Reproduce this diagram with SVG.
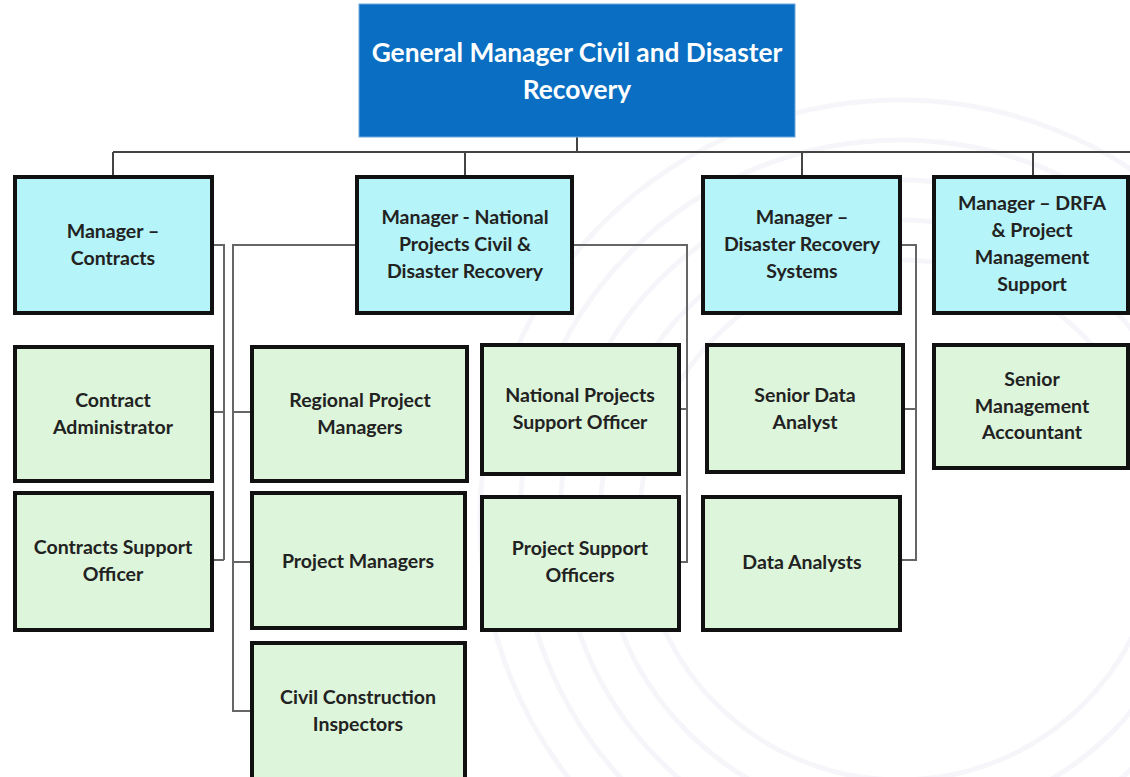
<svg xmlns="http://www.w3.org/2000/svg" width="1130" height="777" viewBox="0 0 1130 777">
<style>
.bg{fill:none;stroke:#ECEAF4;stroke-width:5;opacity:0.45}
.mgr{fill:#B5F4F8;stroke:#111;stroke-width:4}
.staff{fill:#DDF5DA;stroke:#111;stroke-width:4}
.top{fill:#0A6FC2;stroke:#6FA8DC;stroke-width:1}
.t{font-family:Lato,"Open Sans","Liberation Sans",sans-serif;font-weight:700;font-size:19.5px;fill:#222;text-anchor:middle}
.tw{font-family:Lato,"Open Sans","Liberation Sans",sans-serif;font-weight:700;font-size:26.3px;fill:#FFFFFF;text-anchor:middle}
.c{fill:none;stroke:#666;stroke-width:2}
.bus{fill:none;stroke:#444;stroke-width:2}
</style>
<rect width="1130" height="777" fill="#FFFFFF"/>
<g id="background">
<circle class="bg" cx="900" cy="520" r="260"/>
<circle class="bg" cx="900" cy="520" r="300"/>
<circle class="bg" cx="900" cy="520" r="340"/>
<circle class="bg" cx="900" cy="520" r="380"/>
<circle class="bg" cx="900" cy="520" r="420"/>
</g>
<g id="connectors">
<path class="bus" d="M577 137V152M113 152H1130M113 152V177M465 152V177M802 152V177M1033 152V177"/>
<path class="c" d="M212 245H224V560M212 412H224M212 560H224"/>
<path class="c" d="M357 245H233V711H252M233 412H252M233 562H252"/>
<path class="c" d="M572 245H687V562H679M679 409H687"/>
<path class="c" d="M900 245H916V560H900M903 409H916"/>
</g>
<g id="gm"><rect class="top" x="359" y="4" width="436" height="133"/>
<text class="tw" x="577" y="62">General Manager Civil and Disaster</text>
<text class="tw" x="577" y="99">Recovery</text></g>
<g id="mgr-contracts"><rect class="mgr" x="15" y="177" width="197" height="136"/>
<text class="t" x="113" y="238">Manager –</text><text class="t" x="113" y="265">Contracts</text></g>
<g id="mgr-national"><rect class="mgr" x="357" y="177" width="215" height="136"/>
<text class="t" x="465" y="224">Manager - National</text><text class="t" x="465" y="251">Projects Civil &amp;</text><text class="t" x="465" y="278">Disaster Recovery</text></g>
<g id="mgr-drs"><rect class="mgr" x="703" y="177" width="197" height="136"/>
<text class="t" x="802" y="224">Manager –</text><text class="t" x="802" y="251">Disaster Recovery</text><text class="t" x="802" y="278">Systems</text></g>
<g id="mgr-drfa"><rect class="mgr" x="934" y="177" width="194" height="136"/>
<text class="t" x="1032" y="210">Manager – DRFA</text><text class="t" x="1032" y="237">&amp; Project</text><text class="t" x="1032" y="264">Management</text><text class="t" x="1032" y="291">Support</text></g>
<g id="contract-admin"><rect class="staff" x="15" y="347" width="197" height="134"/>
<text class="t" x="113" y="407">Contract</text><text class="t" x="113" y="434">Administrator</text></g>
<g id="contracts-support"><rect class="staff" x="15" y="493" width="197" height="137"/>
<text class="t" x="113" y="554">Contracts Support</text><text class="t" x="113" y="581">Officer</text></g>
<g id="regional-pm"><rect class="staff" x="252" y="347" width="215" height="134"/>
<text class="t" x="360" y="407">Regional Project</text><text class="t" x="360" y="434">Managers</text></g>
<g id="pm"><rect class="staff" x="252" y="493" width="213" height="135"/>
<text class="t" x="358" y="568">Project Managers</text></g>
<g id="cci"><rect class="staff" x="252" y="643" width="213" height="140"/>
<text class="t" x="358" y="704">Civil Construction</text><text class="t" x="358" y="731">Inspectors</text></g>
<g id="npso"><rect class="staff" x="482" y="345" width="197" height="129"/>
<text class="t" x="580" y="402">National Projects</text><text class="t" x="580" y="429">Support Officer</text></g>
<g id="pso"><rect class="staff" x="482" y="497" width="197" height="133"/>
<text class="t" x="580" y="555">Project Support</text><text class="t" x="580" y="582">Officers</text></g>
<g id="sda"><rect class="staff" x="707" y="345" width="196" height="127"/>
<text class="t" x="805" y="402">Senior Data</text><text class="t" x="805" y="429">Analyst</text></g>
<g id="da"><rect class="staff" x="703" y="497" width="197" height="133"/>
<text class="t" x="802" y="569">Data Analysts</text></g>
<g id="sma"><rect class="staff" x="934" y="345" width="194" height="123"/>
<text class="t" x="1032" y="386">Senior</text><text class="t" x="1032" y="413">Management</text><text class="t" x="1032" y="439">Accountant</text></g>
</svg>
